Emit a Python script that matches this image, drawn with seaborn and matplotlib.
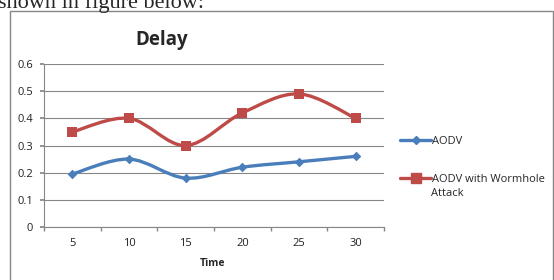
import matplotlib
matplotlib.use("Agg")
import matplotlib.pyplot as plt
from matplotlib.path import Path
from matplotlib.patches import PathPatch, Rectangle
from matplotlib.lines import Line2D
import seaborn as sns
import pandas as pd

# Datos
tiempos = [5, 10, 15, 20, 25, 30]
aodv = [0.195, 0.25, 0.18, 0.22, 0.24, 0.26]
aodv_wormhole = [0.35, 0.40, 0.30, 0.42, 0.49, 0.40]
series = ["AODV", "AODV with Wormhole Attack"]
y_ticks = [0, 0.1, 0.2, 0.3, 0.4, 0.5, 0.6]

AZUL = "#4a7ebb"
ROJO = "#be4b48"

sns.set_theme(style="white")
plt.rcParams["font.family"] = ["Open Sans", "DejaVu Sans"]

df = pd.DataFrame({"pos": range(len(tiempos)), "Time": tiempos,
                   series[0]: aodv, series[1]: aodv_wormhole})


def curva_suave(xs, ys):
    # curva tipo Excel (Bezier a partir de los puntos vecinos)
    verts = [(xs[0], ys[0])]
    codes = [Path.MOVETO]
    n = len(xs)
    for i in range(n - 1):
        x0, y0 = (xs[i - 1], ys[i - 1]) if i > 0 else (xs[i], ys[i])
        x1, y1 = xs[i], ys[i]
        x2, y2 = xs[i + 1], ys[i + 1]
        x3, y3 = (xs[i + 2], ys[i + 2]) if i + 2 < n else (x2, y2)
        c1 = (x1 + (x2 - x0) / 6, y1 + (y2 - y0) / 6)
        c2 = (x2 - (x3 - x1) / 6, y2 - (y3 - y1) / 6)
        verts += [c1, c2, (x2, y2)]
        codes += [Path.CURVE4] * 3
    return Path(verts, codes)


fig = plt.figure(figsize=(5.54, 2.8), dpi=100)
ax = fig.add_axes([44 / 554, 1 - 227 / 280, 340 / 554, 163 / 280])

# marco exterior y texto cortado arriba (como en la captura original)
fig.patches.append(Rectangle((10 / 554, -0.1), 543 / 554, 1.1 - 11 / 280,
                             transform=fig.transFigure, fill=False,
                             edgecolor="#868686", linewidth=1.0))
fig.text(-0.004, 1 - 8 / 280, "shown in figure below:", fontsize=16,
         family="Liberation Serif", va="baseline", ha="left")

for nombre, color, marca, tam in [(series[0], AZUL, "D", 24), (series[1], ROJO, "s", 44)]:
    ax.add_patch(PathPatch(curva_suave(list(df["pos"]), list(df[nombre])),
                           fill=False, edgecolor=color, linewidth=2.4, zorder=3))
    sns.scatterplot(data=df, x="pos", y=nombre, ax=ax, color=color, marker=marca,
                    s=tam, linewidth=0, zorder=4, legend=False)

ax.set_xlim(-0.5, len(tiempos) - 0.5)
ax.set_ylim(0, 0.6)
ax.set_yticks(y_ticks)
ax.set_yticklabels(["0"] + [f"{v:.1f}" for v in y_ticks[1:]])
ax.set_xticks(range(len(tiempos)))
ax.set_xticklabels([str(t) for t in tiempos])
ax.set_xticks([i - 0.5 for i in range(len(tiempos) + 1)], minor=True)
ax.tick_params(axis="x", which="major", length=0, pad=8, labelsize=8, colors="#222222")
ax.tick_params(axis="x", which="minor", length=3, direction="out", color="#868686", bottom=True)
ax.tick_params(axis="y", length=3, direction="out", color="#868686", left=True,
               labelsize=8, colors="#222222", pad=5)
ax.yaxis.grid(True, color="#868686", linewidth=0.8)
ax.set_axisbelow(True)
for lado in ["top", "right"]:
    ax.spines[lado].set_visible(False)
for lado in ["left", "bottom"]:
    ax.spines[lado].set_color("#868686")
    ax.spines[lado].set_linewidth(0.8)
ax.set_xlabel("")
ax.set_ylabel("")

fig.text(162 / 554, 1 - 40 / 280, "Delay", fontsize=13.5, fontweight="bold",
         ha="center", va="center")
fig.text(213 / 554, 1 - 264 / 280, "Time", fontsize=7.5, fontweight="bold",
         ha="center", va="center")

# leyenda: la segunda etiqueta ocupa dos renglones, el simbolo va con el primero
manejadores = [Line2D([], [], color=AZUL, marker="D", markersize=4.5, linewidth=2.4),
               Line2D([], [], color=ROJO, marker="s", markersize=6.5, linewidth=2.4)]
etiquetas = [series[0], "AODV with Wormhole"]
fig.legend(manejadores, etiquetas, loc="center left",
           bbox_to_anchor=(390 / 554, 1 - 160.5 / 280),
           frameon=False, fontsize=8, handlelength=2.8, handletextpad=0.1,
           labelspacing=2.4)
fig.text(431 / 554, 1 - 194 / 280, "Attack", fontsize=8, ha="left", va="center")

fig.savefig("out.png", dpi=100)
